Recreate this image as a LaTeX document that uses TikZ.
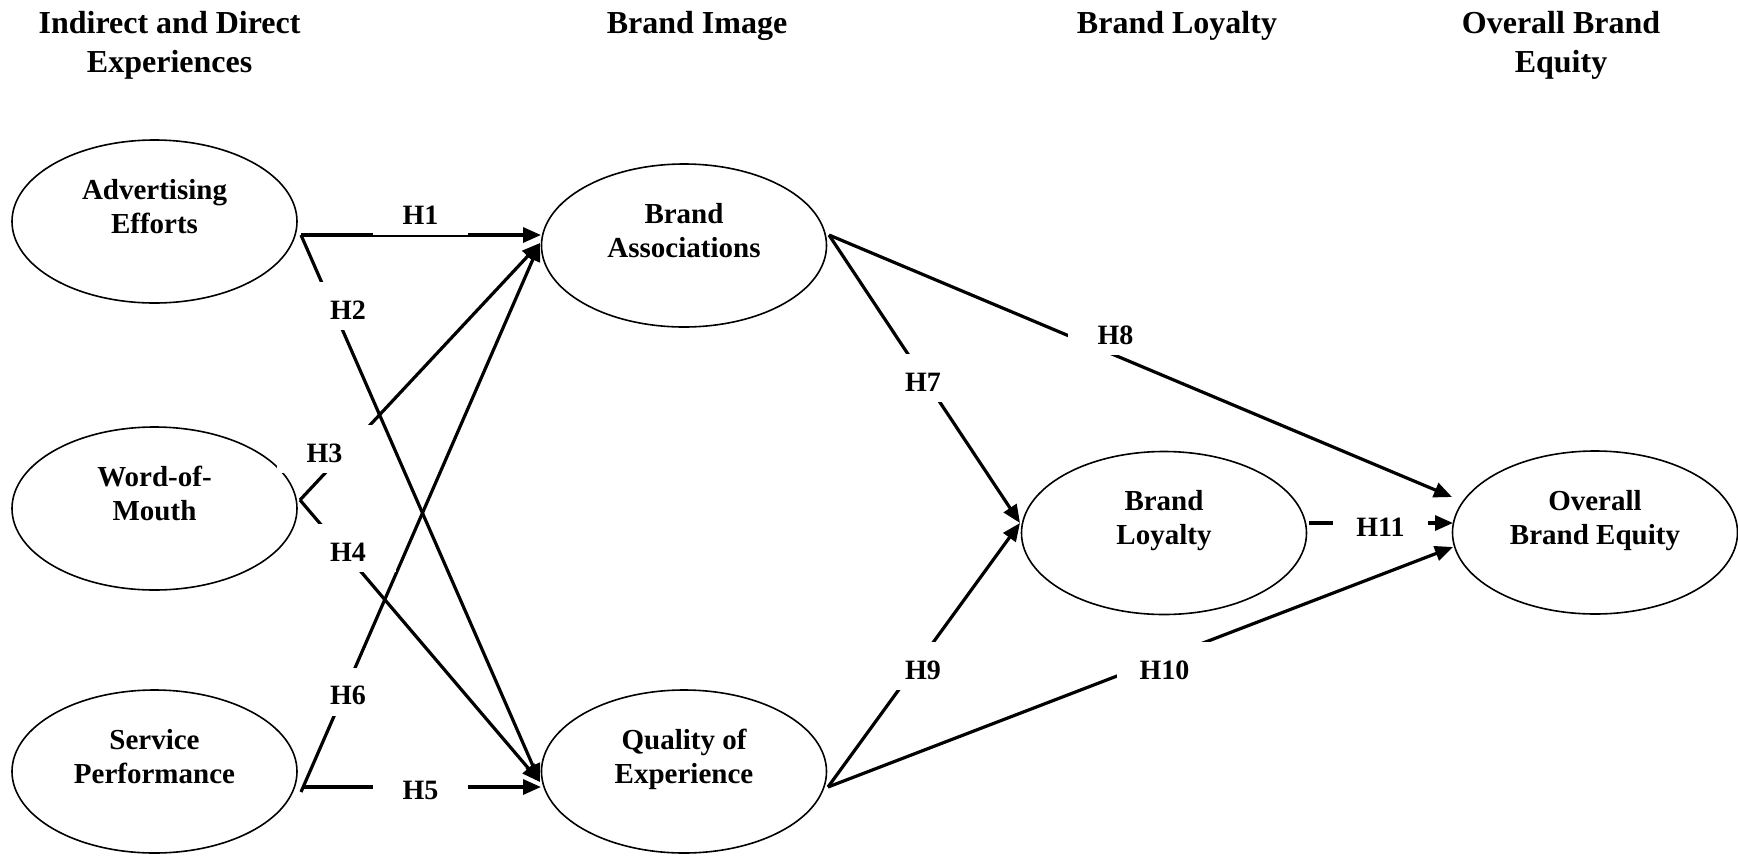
\documentclass[tikz,border=0pt]{standalone}
\usepackage{fontspec}
\setmainfont{Liberation Serif}
\usetikzlibrary{arrows.meta,shapes.geometric,calc}

% two-line caption inside an oval, set a little above the oval's centre
\newcommand{\ovaltext}[1]{\raisebox{6pt}[0pt][0pt]{\fontsize{29}{34}\selectfont\begin{tabular}{@{}c@{}}#1\end{tabular}}}
% column heading, baseline of the first line is the node's base
\newcommand{\headtext}[1]{\fontsize{32}{39}\selectfont\begin{tabular}[t]{@{}c@{}}#1\end{tabular}}

\tikzset{
  oval/.style={ellipse, draw, line width=1.6pt, minimum width=285pt,
    minimum height=163pt, inner sep=0pt, font=\bfseries},
  link/.style={line width=3.2pt, -{Triangle[length=18pt,width=15pt]}},
  hyp/.style={fill=white, inner sep=0pt, minimum width=95pt, minimum height=48pt,
    text height=27pt, text depth=0.4pt, font=\fontsize{28}{34}\selectfont\bfseries},
  head/.style={anchor=base, inner sep=0pt, font=\bfseries},
}

\begin{document}
\begin{tikzpicture}[x=1pt,y=-1pt]
\useasboundingbox (0,0) rectangle (1738,855);

% column headings
\node[head] (hd-exp) at (169.6,33) {\headtext{Indirect and Direct\\Experiences}};
\node[head] (hd-img) at (697,33) {\headtext{Brand Image}};
\node[head] (hd-loy) at (1177,33) {\headtext{Brand Loyalty}};
\node[head] (hd-eq) at (1561,33) {\headtext{Overall Brand\\Equity}};

% constructs
\node[oval] (ae)  at (154.5,221.5) {\ovaltext{Advertising\\Efforts}};
\node[oval] (wom) at (154.5,508.5) {\ovaltext{Word-of-\\Mouth}};
\node[oval] (sp)  at (154.5,771.5) {\ovaltext{Service\\Performance}};
\node[oval] (ba)  at (684,245.5)   {\ovaltext{Brand\\Associations}};
\node[oval] (qe)  at (684,771.5)   {\ovaltext{Quality of\\Experience}};
\node[oval] (bl)  at (1164,533)    {\ovaltext{Brand\\Loyalty}};
\node[oval] (obe) at (1595,532.5)  {\ovaltext{Overall\\Brand Equity}};

% ports on the ovals
\coordinate (ae-o)  at ($(ae.center)+(146.5,13.5)$);
\coordinate (wom-o) at ($(wom.center)+(145.5,-8.5)$);
\coordinate (sp-o5) at ($(sp.center)+(147.5,15.5)$);
\coordinate (sp-o6) at ($(sp.center)+(146.5,20.5)$);
\coordinate (ba-i1) at ($(ba.center)+(-143,-10.5)$);
\coordinate (ba-i)  at ($(ba.center)+(-144,-2.5)$);
\coordinate (ba-o)  at ($(ba.center)+(145,-10.5)$);
\coordinate (qe-i)  at ($(qe.center)+(-144,10.5)$);
\coordinate (qe-i5) at ($(qe.center)+(-143,15.5)$);
\coordinate (qe-o)  at ($(qe.center)+(144,15.5)$);
\coordinate (bl-i)  at ($(bl.center)+(-144,-10)$);
\coordinate (bl-o)  at ($(bl.center)+(145,-10)$);
\coordinate (obe-i8)  at ($(obe.center)+(-143,-35.5)$);
\coordinate (obe-i11) at ($(obe.center)+(-142,-9.5)$);
\coordinate (obe-i10) at ($(obe.center)+(-142,14.5)$);

% hypothesised paths
\draw[link] (ae-o) -- (ba-i1);
\draw[link] (ae-o) -- (qe-i);
\draw[link] (wom-o) -- (ba-i);
\draw[link] (wom-o) -- (qe-i);
\draw[link] (sp-o5) -- (qe-i5);
\draw[link] (sp-o6) -- (ba-i);
\draw[link] (ba-o) -- (bl-i);
\draw[link] (ba-o) -- (obe-i8);
\draw[link] (qe-o) -- (bl-i);
\draw[link] (qe-o) -- (obe-i10);
\draw[link] (bl-o) -- (obe-i11);

% hypothesis labels
\node[hyp] (l1)  at (420.5,211)   {H1};
\node[hyp] (l2)  at (348,306)     {H2};
\node[hyp] (l3)  at (324.5,449)   {H3};
\node[hyp] (l4)  at (348,548)     {H4};
\node[hyp] (l5)  at (420.5,786)   {H5};
\node[hyp] (l6)  at (348,691.5)   {H6};
\node[hyp] (l7)  at (923,378)     {H7};
\node[hyp] (l8)  at (1115.5,331)  {H8};
\node[hyp] (l9)  at (923,666)     {H9};
\node[hyp] (l10) at (1164.5,666)  {H10};
\node[hyp] (l11) at (1380.5,523)  {H11};
\end{tikzpicture}
\end{document}
